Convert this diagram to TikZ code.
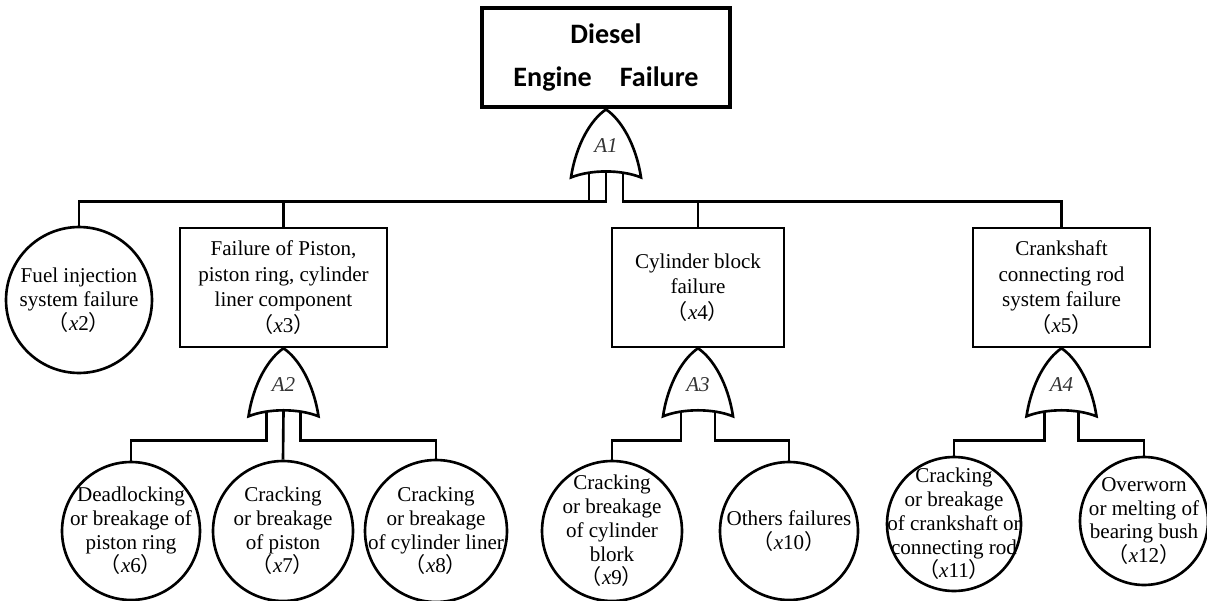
\documentclass[tikz,border=0pt]{standalone}
\usepackage{fontspec}
\setmainfont{Liberation Serif}
\newfontfamily\titlefont{Carlito}
\newfontfamily\cjk{Noto Sans CJK SC}
\usetikzlibrary{positioning}
\newcommand{\evid}[1]{{\cjk （}\textit{x}#1{\cjk ）}}
\tikzset{
  orgate/.pic={
    \draw[line width=1.5pt, fill=white] (0,0) .. controls (-15,10) and (-30,35) .. (-35,68)
      .. controls (-15,60) and (15,60) .. (35,68)
      .. controls (30,35) and (15,10) .. (0,0) -- cycle;
    \node[font=\itshape\fontsize{12}{14}\selectfont, text=black!80] at (0,36) {#1};
    \coordinate (-l) at (-17,63.5);
    \coordinate (-m) at (0,62);
    \coordinate (-r) at (17,63.5);
    \coordinate (-lb) at (-17,92);
    \coordinate (-mb) at (0,92);
    \coordinate (-rb) at (17,92);
  }
}

\begin{document}
\begin{tikzpicture}[x=0.02cm, y=-0.02cm,
    every node/.style={align=center, inner sep=0pt},
    link/.style={line width=1.5pt},
    topevent/.style={draw, line width=2.8pt, minimum width=4.96cm, minimum height=1.98cm,
      font=\titlefont\bfseries\fontsize{16}{24}\selectfont},
    event/.style={draw, line width=1.5pt, minimum height=2.38cm, font=\fontsize{12}{14.5}\selectfont},
    basic/.style={draw, circle, line width=1.5pt, inner sep=-30pt, font=\fontsize{12}{13.5}\selectfont}]
  \useasboundingbox (0,0) rectangle (1207,601);

  \node[topevent] (top) at (606,57.5) {Diesel\\Engine\quad Failure};

  \node[basic, minimum size=2.92cm] (x2) at (79,300) {Fuel injection\\system failure\\\evid{2}};
  \node[event, minimum width=4.14cm] (x3) at (283.5,287.5) {Failure of Piston,\\piston ring, cylinder\\liner component\\\evid{3}};
  \node[event, minimum width=3.44cm] (x4) at (698,287.5) {Cylinder block\\failure\\\evid{4}};
  \node[event, minimum width=3.54cm] (x5) at (1061.5,287.5) {Crankshaft\\connecting rod\\system failure\\\evid{5}};

  \node[basic, minimum size=2.76cm] (x6) at (131,531) {Deadlocking\\or breakage of\\piston ring\\\evid{6}};
  \node[basic, minimum size=2.8cm] (x7) at (283,531) {Cracking\\or breakage\\of piston\\\evid{7}};
  \node[basic, minimum size=2.84cm] (x8) at (436,531) {Cracking\\or breakage\\of cylinder liner\\\evid{8}};
  \node[basic, minimum size=2.8cm] (x9) at (612,531) {Cracking\\or breakage\\of cylinder\\blork\\\evid{9}};
  \node[basic, minimum size=2.76cm] (x10) at (789,531) {Others failures\\\evid{10}};
  \node[basic, minimum size=2.68cm] (x11) at (954,524) {Cracking\\or breakage\\of crankshaft or\\connecting rod\\\evid{11}};
  \node[basic, minimum size=2.56cm] (x12) at (1144,521) {Overworn\\or melting of\\bearing bush\\\evid{12}};

  \pic (g1) at (top.south) {orgate=A1};
  \pic (g2) at (x3.south) {orgate=A2};
  \pic (g3) at (x4.south) {orgate=A3};
  \pic (g4) at (x5.south) {orgate=A4};

  \draw[link] (x2.north) |- (g1-mb) -- (g1-m);
  \draw[link] (g1-l) -- (g1-lb);
  \draw[link] (g1-r) -- (g1-rb) -| (x5.north);
  \draw[link] (x3.north) -- (x3.north |- g1-mb);
  \draw[link] (x4.north) -- (x4.north |- g1-rb);

  \draw[link] (x6.north) |- (g2-lb) -- (g2-l);
  \draw[link] (g2-m) -- (x7.north);
  \draw[link] (g2-r) -- (g2-rb) -| (x8.north);

  \draw[link] (x9.north) |- (g3-lb) -- (g3-l);
  \draw[link] (g3-r) -- (g3-rb) -| (x10.north);

  \draw[link] (x11.north) |- (g4-lb) -- (g4-l);
  \draw[link] (g4-r) -- (g4-rb) -| (x12.north);
\end{tikzpicture}
\end{document}
